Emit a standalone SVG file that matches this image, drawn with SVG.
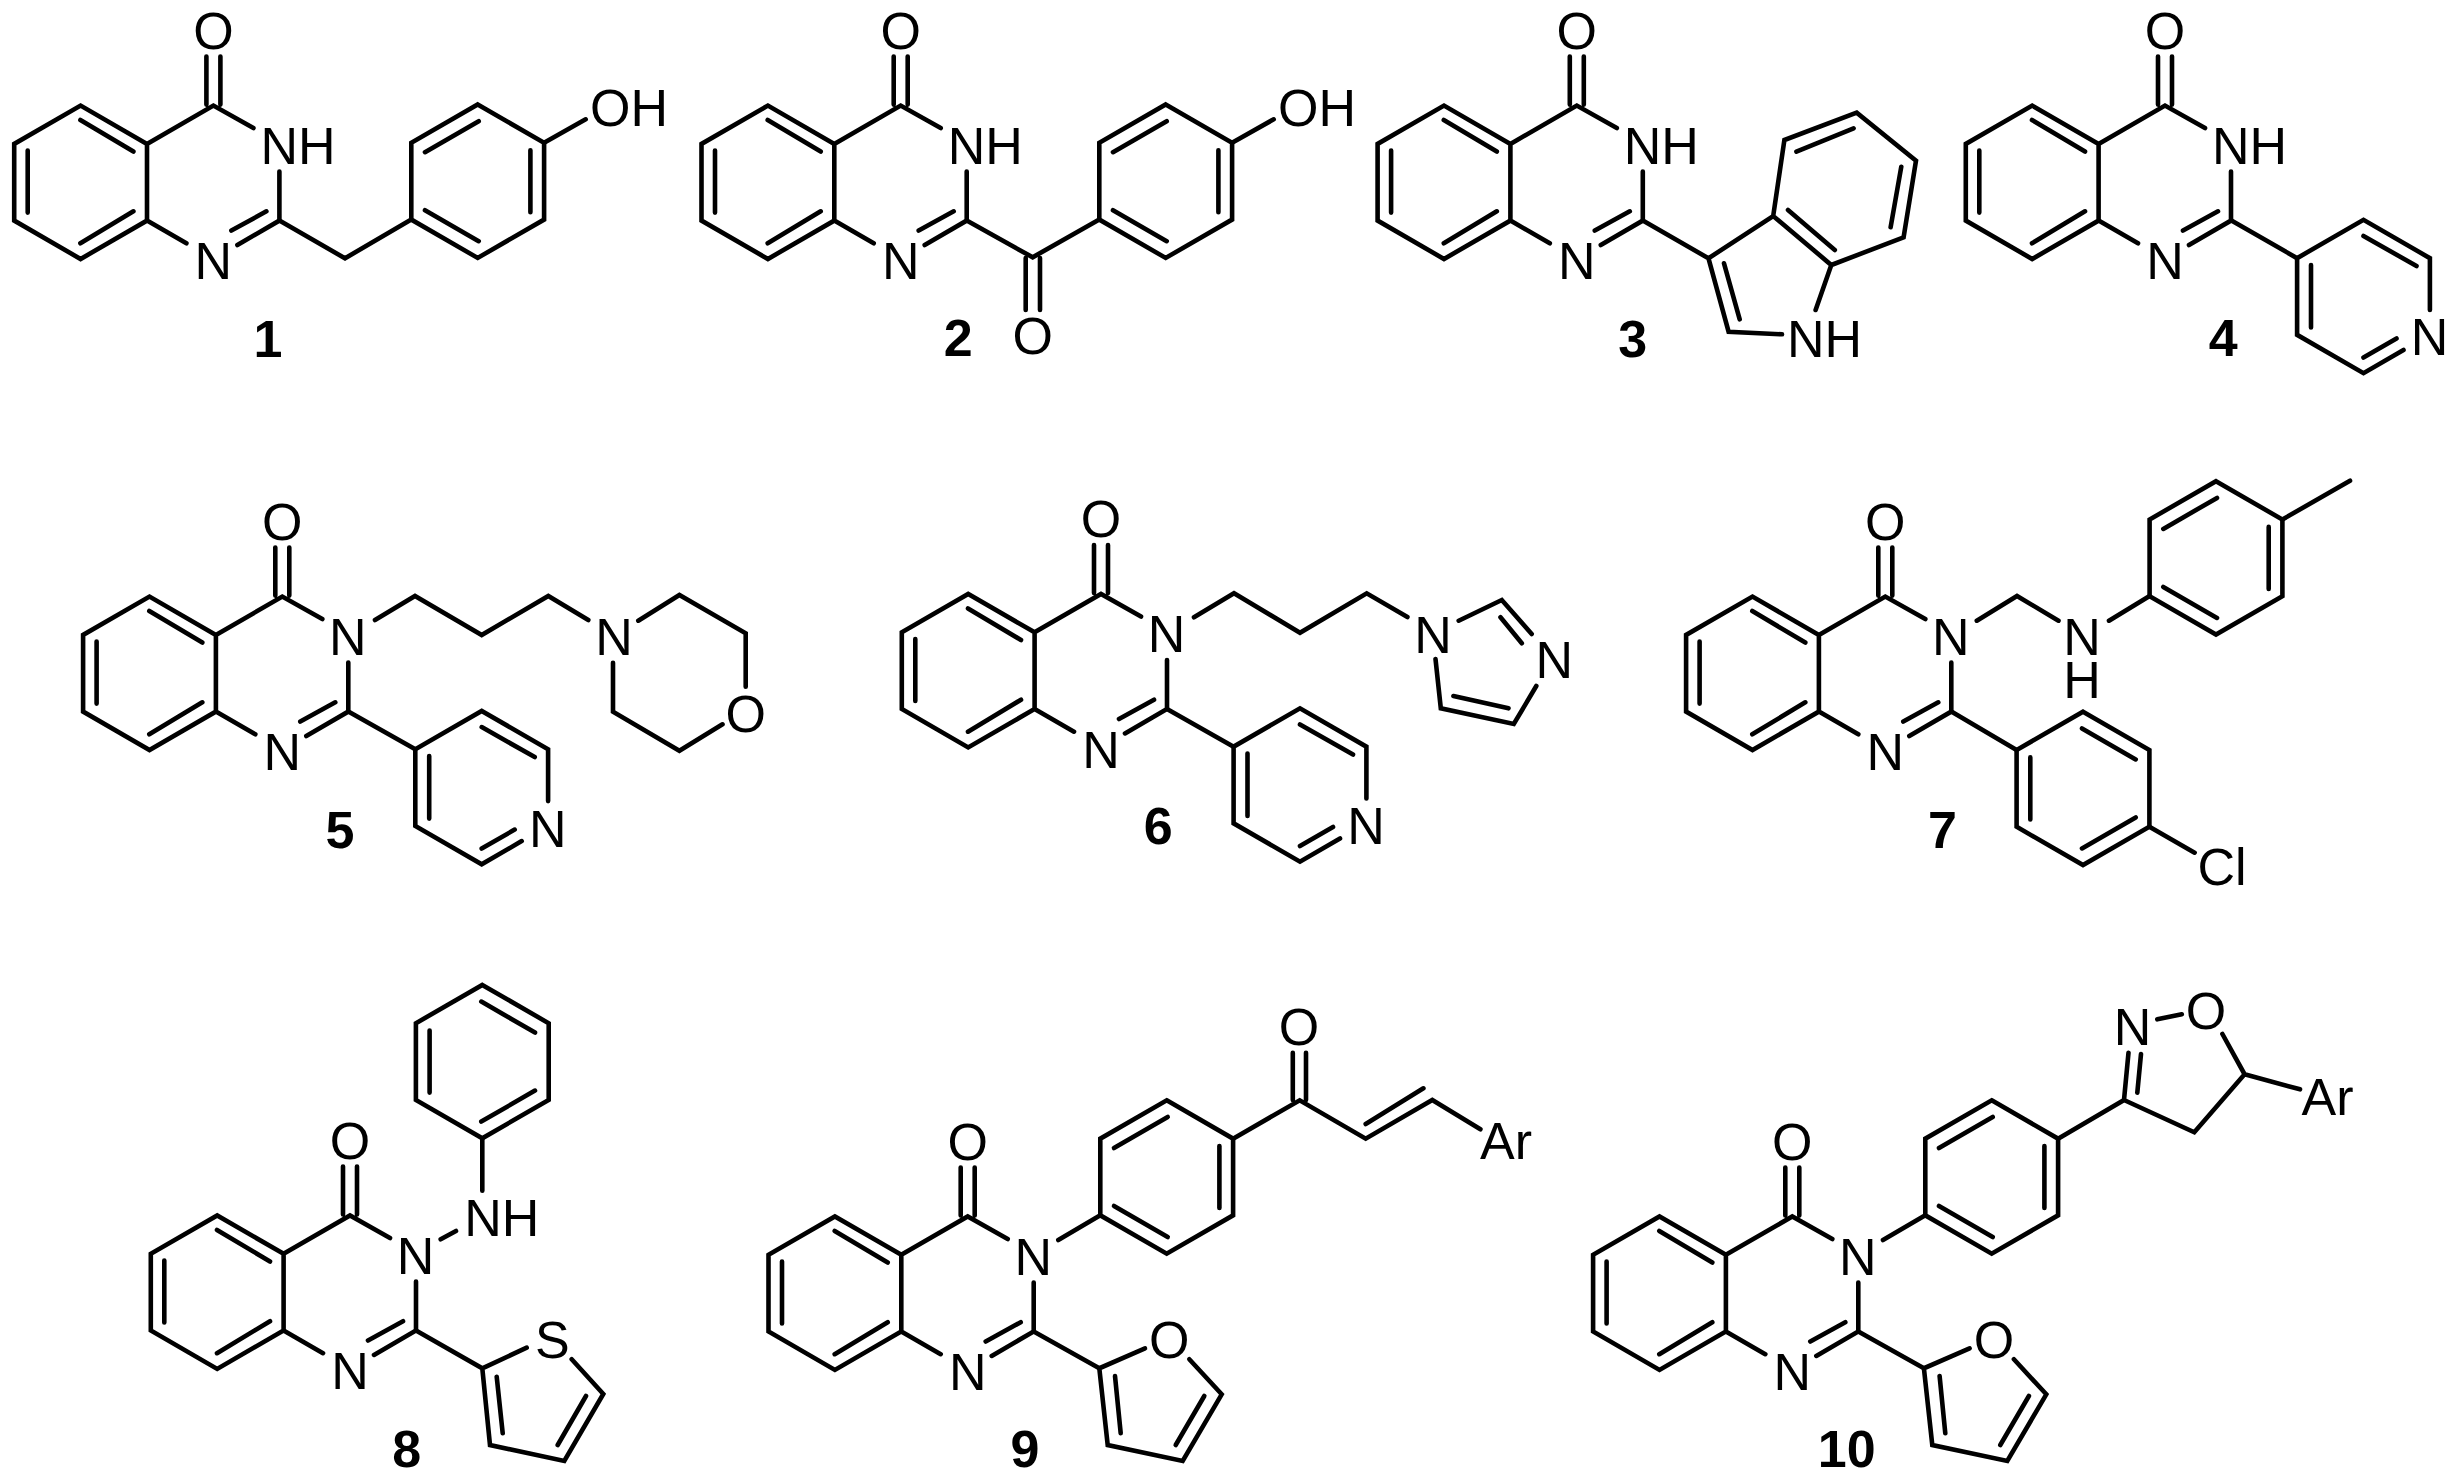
<svg xmlns="http://www.w3.org/2000/svg" xmlns:xlink="http://www.w3.org/1999/xlink" width="2461" height="1480" viewBox="0 0 2461 1480">
<style>
path{fill:none;stroke:#000;stroke-width:4.6;stroke-linecap:round;stroke-linejoin:miter}
text{font-family:"Liberation Sans",Arial,sans-serif;font-size:52px;fill:#000}
.m{text-anchor:middle}
.b{font-weight:bold;text-anchor:middle}
</style>
<defs>
<path id="core" d="M-66.4 38.35L0 0L40 22.5M-66.4 38.35L-132.8 0L-199.2 38.35V115L-132.8 153.4L-66.4 115ZM-66.4 115L-27 137.7M66 66V115L24 139.4M53 105.7L18 125M-133 14.4L-80 46M-185.7 45V107M-133 137.7L-80 105.7M-7 -49V-1M7 -49V-1"/>
<path id="phA" d="M0 -76.7L66.4 -38.35V38.35L0 76.7L-66.4 38.35V-38.35ZM-52.7 -29L1 -60M52.7 -31V31M-52.7 29L1 60"/>
<path id="phB" d="M0 -76.7L66.4 -38.35V38.35L0 76.7L-66.4 38.35V-38.35ZM52.7 -29L-1 -60M-52.7 -31V31M52.7 29L-1 60"/>
<path id="py" d="M66.4 13.5V-38.35L0 -76.7L-66.4 -38.35V38.35L0 76.7L40 53.5M0 -60.5L53 -30.5M-52.5 -31.5V31M0 61L33 42"/>
<path id="fur" d="M45.7 -20L0 0L8.4 76.7L83.4 92.7L122.4 26L90 -9M15.7 7.7L21.4 65M105 27.7L76.4 76.7"/>
</defs>
<rect width="2461" height="1480" fill="#fff"/>
<g id="mol1">
<use href="#core" x="213.4" y="105.6"/><use href="#phA" x="477.7" y="181.2"/>
<path d="M279.4 220.6L345 258.3L411.3 219.6M544.1 142.85L585.7 119.3"/>
<text class="m" x="213.4" y="48.8">O</text><text class="m" x="213.4" y="279.2">N</text><text x="260.4" y="164">NH</text><text x="590" y="126">OH</text>
<text class="b" x="268" y="356.5">1</text>
</g>
<g id="mol2">
<use href="#core" x="900.7" y="105.6"/><use href="#phA" x="1165.7" y="181.2"/>
<path d="M966.7 220.6L1032.7 257.3L1099.3 219.6M1025.7 258V310M1040 258V310M1232.1 142.85L1273.7 119.3"/>
<text class="m" x="900.7" y="48.8">O</text><text class="m" x="900.7" y="279.2">N</text><text x="947.7" y="164">NH</text><text x="1278" y="126">OH</text>
<text class="m" x="1032.7" y="354">O</text>
<text class="b" x="958.3" y="356">2</text>
</g>
<g id="mol3">
<use href="#core" x="1576.8" y="105.6"/>
<path d="M1642.8 220.6L1708.5 258.3L1773.2 216L1831.3 265L1903.6 237.3L1916 160.7L1856.7 112.7L1784.4 140L1773.2 216M1708.5 258.3L1728.6 331.7L1782 334.3M1831.3 265L1815.6 310M1724 263.3L1739.7 319.3M1788 210L1834.8 250M1796.4 151.7L1853.6 128.3M1901.3 166.7L1890.6 227.3"/>
<text class="m" x="1576.8" y="48.8">O</text><text class="m" x="1576.8" y="279.2">N</text><text x="1623.8" y="164">NH</text><text x="1787" y="356.7">NH</text>
<text class="b" x="1632.6" y="356.5">3</text>
</g>
<g id="mol4">
<use href="#core" x="2165" y="105.6"/><use href="#py" x="2363.5" y="296.5"/>
<path d="M2231.4 220.6L2297.1 258.15"/>
<text class="m" x="2165" y="48.8">O</text><text class="m" x="2165" y="279.2">N</text><text x="2212" y="164">NH</text><text class="m" x="2429.5" y="355">N</text>
<text class="b" x="2223.3" y="356">4</text>
</g>
<g id="mol5">
<use href="#core" x="282.3" y="596.6"/><use href="#py" x="481.7" y="787.6"/>
<path d="M348.3 711.6L415.3 749.25M375 620L415 596L481.7 635L548.3 596L588.3 620M638.3 620.7L679.4 595L745.7 633.3V686.7M722.5 724.3L679.4 750.7L613 711.7V662.7"/>
<text class="m" x="282.3" y="539.8">O</text><text class="m" x="282.3" y="770.2">N</text><text class="m" x="347.8" y="655">N</text><text class="m" x="547.7" y="846.7">N</text><text class="m" x="614" y="655">N</text><text class="m" x="745.7" y="731.7">O</text>
<text class="b" x="340" y="848">5</text>
</g>
<g id="mol6">
<use href="#core" x="1101" y="594"/><use href="#py" x="1300" y="785"/>
<path d="M1167 709L1233.6 746.65M1194 617.3L1234 593.3L1300 632.7L1366.7 593.3L1407.4 617M1458.7 620.7L1501.8 600L1531.7 634M1500.5 617.3L1521.8 643.3M1536.3 686L1513.8 724L1440.8 708.3L1435.5 659M1508.5 708.3L1453.4 696"/>
<text class="m" x="1101" y="537.2">O</text><text class="m" x="1101" y="767.6">N</text><text class="m" x="1166.5" y="652.4">N</text><text class="m" x="1366" y="844">N</text><text class="m" x="1433" y="652.7">N</text><text class="m" x="1554.2" y="678.3">N</text>
<text class="b" x="1158.3" y="844">6</text>
</g>
<g id="mol7">
<use href="#core" x="1885.3" y="596.6"/><use href="#phA" x="2216" y="557.9"/><use href="#phB" x="2083" y="788.4"/>
<path d="M1951.3 711.6L2016.6 750M1976.8 620.7L2017 596L2058.5 620.7M2109 620.7L2149.6 596M2282.4 519.5L2350 480.7M2149.4 826.7L2194.6 852.7"/>
<text class="m" x="1885.3" y="539.8">O</text><text class="m" x="1885.3" y="770.2">N</text><text class="m" x="1950.8" y="655">N</text><text class="m"><tspan x="2082" y="655">N</tspan><tspan x="2082" y="698.3">H</tspan></text><text x="2197.5" y="885">Cl</text>
<text class="b" x="1942.4" y="848.3">7</text>
</g>
<g id="mol8">
<use href="#core" x="350" y="1215.5"/><use href="#phB" x="482.3" y="1061.6"/>
<path d="M482.3 1138.3V1190.7M440.7 1239.3L456 1231M416 1330.5L482.3 1368.3L526.7 1347.7M571.7 1359.3L603.3 1394L564.3 1461L490 1445L482.3 1368.3M496.7 1376.7L502.7 1433.3M586 1396L557.7 1445"/>
<text class="m" x="350" y="1158.7">O</text><text class="m" x="350" y="1389.1">N</text><text class="m" x="415.5" y="1273.9">N</text><text x="464.3" y="1236">NH</text><text class="m" x="552.3" y="1357.7">S</text>
<text class="b" x="406.7" y="1466.7">8</text>
</g>
<g id="mol9">
<use href="#core" x="967.7" y="1216.5"/><use href="#phA" x="1166.7" y="1177"/><use href="#fur" x="1099.3" y="1368.3"/>
<path d="M1033.7 1331.5L1099.3 1368.3M1058.3 1240L1100.3 1215.35M1233.1 1138.65L1299.7 1100.3L1365.7 1138.7L1432.3 1100L1480.4 1129.3M1365.7 1124L1423.4 1088.3M1292.8 1052.7V1100M1306 1052.7V1100"/>
<text class="m" x="967.7" y="1159.7">O</text><text class="m" x="967.7" y="1390.1">N</text><text class="m" x="1033.2" y="1274.9">N</text><text class="m" x="1169.3" y="1357.7">O</text><text class="m" x="1299" y="1045">O</text><text x="1480" y="1159.3">Ar</text>
<text class="b" x="1025" y="1466.7">9</text>
</g>
<g id="mol10">
<use href="#core" x="1792.3" y="1216.5"/><use href="#phA" x="1991.7" y="1177"/><use href="#fur" x="1923.9" y="1368.3"/>
<path d="M1858.3 1331.5L1923.9 1368.3M1883 1240L1925.3 1215.35M2058.1 1138.65L2124 1100L2128.5 1052.7M2137.3 1092.7L2141 1054M2124 1100L2194.3 1132.3L2244.6 1074.3L2222.4 1034M2244.6 1074.3L2300 1089.3M2157.3 1019.3L2181.8 1014.3"/>
<text class="m" x="1792.3" y="1159.7">O</text><text class="m" x="1792.3" y="1390.1">N</text><text class="m" x="1857.8" y="1274.9">N</text><text class="m" x="1993.9" y="1357.7">O</text><text class="m" x="2132.5" y="1045">N</text><text class="m" x="2206" y="1029.3">O</text><text x="2301.6" y="1115">Ar</text>
<text class="b" x="1846.7" y="1467">10</text>
</g>
</svg>
